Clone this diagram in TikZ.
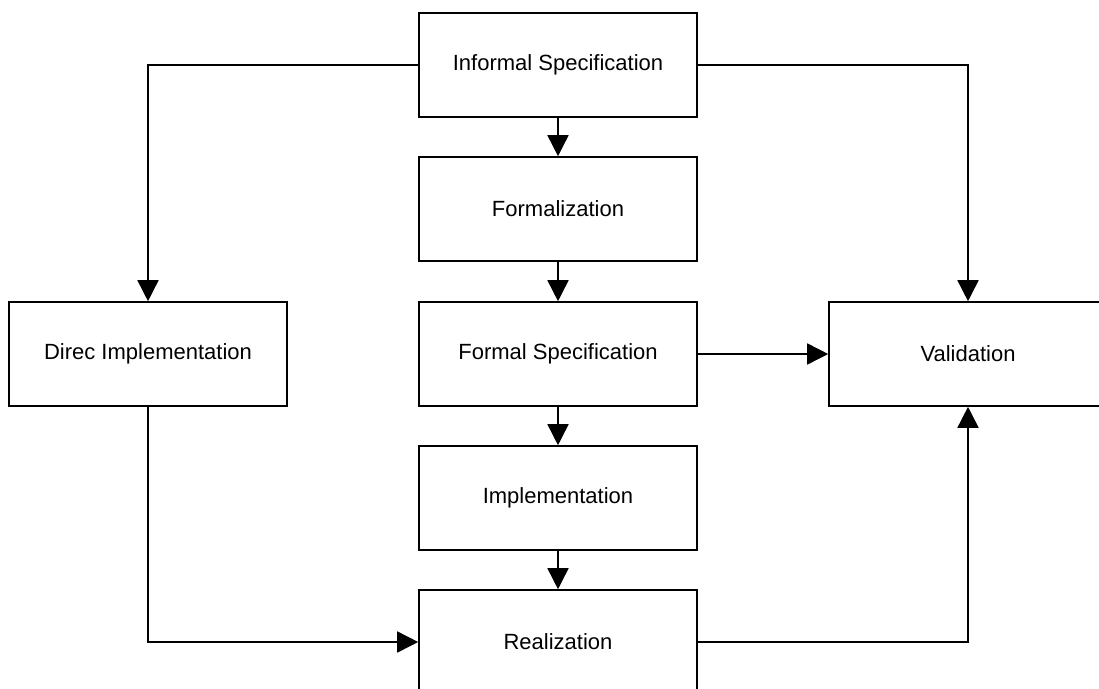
\documentclass[tikz,border=0pt]{standalone}
\usepackage{fontspec}
\setmainfont{Liberation Sans}
\usetikzlibrary{arrows.meta}
\begin{document}
\begin{tikzpicture}[x=1pt,y=-1pt,
  box/.style={draw, line width=1.6pt, minimum width=278pt, minimum height=104pt,
    inner sep=0pt, font=\fontsize{22}{26}\selectfont},
  arr/.style={line width=1.6pt, -{Triangle[length=21pt,width=21pt]}}]
\useasboundingbox (0,0) rectangle (1099,688);
\clip (0,0) rectangle (1099,688);
\node[box] (inf) at (558,65) {Informal Specification};
\node[box] (for) at (558,209) {Formalization};
\node[box] (fs)  at (558,354) {Formal Specification};
\node[box] (imp) at (558,498) {Implementation};
\node[box] (rea) at (558,642) {Realization};
\node[box] (dir) at (148,354) {Direc Implementation};
\node[box] (val) at (968,354) {Validation};
\draw[arr] (inf.west) -| (dir.north);
\draw[arr] (inf.east) -| (val.north);
\draw[arr] (inf) -- (for);
\draw[arr] (for) -- (fs);
\draw[arr] (fs) -- (imp);
\draw[arr] (imp) -- (rea);
\draw[arr] (fs) -- (val);
\draw[arr] (dir.south) |- (rea.west);
\draw[arr] (rea.east) -| (val.south);
\end{tikzpicture}
\end{document}
